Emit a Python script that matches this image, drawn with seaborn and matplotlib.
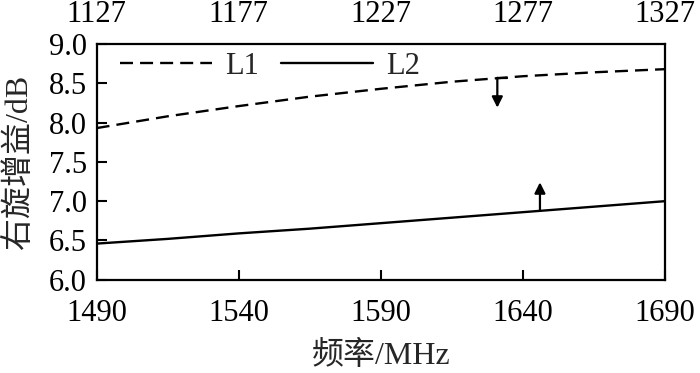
import pandas as pd
import matplotlib.pyplot as plt
import seaborn as sns

# values
freq = [1490, 1515, 1540, 1565, 1590, 1615, 1640, 1665, 1690]
l1_gain = [7.93, 8.08, 8.21, 8.33, 8.43, 8.52, 8.59, 8.64, 8.68]
l2_gain = [6.46, 6.52, 6.59, 6.65, 6.72, 6.79, 6.86, 6.93, 7.00]
bottom_ticks = [1490, 1540, 1590, 1640, 1690]
top_ticks = [1127, 1177, 1227, 1277, 1327]
y_ticks = [6.0, 6.5, 7.0, 7.5, 8.0, 8.5, 9.0]

df = pd.DataFrame({
    'freq': freq * 2,
    'gain': l1_gain + l2_gain,
    'band': ['L1'] * len(freq) + ['L2'] * len(freq),
})

sns.set_style("ticks")
plt.rcParams['font.family'] = ['Liberation Serif', 'Noto Sans CJK SC']
plt.rcParams['font.size'] = 22

fig, ax = plt.subplots(figsize=(7, 3.73), dpi=100)
sns.lineplot(data=df, x='freq', y='gain', style='band', color='black',
             dashes={'L1': (5.5, 3), 'L2': ''}, linewidth=1.7, ax=ax)

ax.set_xlim(1490, 1690)
ax.set_ylim(6.0, 9.0)
ax.set_xticks(bottom_ticks)
ax.set_yticks(y_ticks)
ax.set_yticklabels([f'{v:.1f}' for v in y_ticks])
ax.tick_params(axis='x', direction='in', length=7, width=1.5, pad=14, colors='black')
ax.tick_params(axis='y', direction='in', length=7, width=1.5, pad=7, colors='black')
ax.set_xlabel('频率/MHz', fontsize=23, labelpad=9)
ax.set_ylabel('右旋增益/dB', fontsize=23, labelpad=10.5)
for s in ax.spines.values():
    s.set_linewidth(1.6)
    s.set_color('black')

top = ax.twiny()
top.set_xlim(1127, 1327)
top.set_xticks(top_ticks)
top.tick_params(length=0, pad=11, colors='black')
for s in top.spines.values():
    s.set_visible(False)

# arrows pointing at the axis each curve belongs to
ax.annotate('', xy=(1631, 8.19), xytext=(1631, 8.57),
            arrowprops=dict(arrowstyle='-|>', color='black', lw=1.6,
                            mutation_scale=16, shrinkA=0, shrinkB=0))
ax.plot([1631, 1634.5], [8.57, 8.57], color='black', lw=1.6)
ax.annotate('', xy=(1646, 7.24), xytext=(1646, 6.88),
            arrowprops=dict(arrowstyle='-|>', color='black', lw=1.6,
                            mutation_scale=16, shrinkA=0, shrinkB=0))

ax.legend(loc='upper left', ncol=2, frameon=False, fontsize=22,
          handlelength=3.0, columnspacing=0.7, handletextpad=0.45,
          borderaxespad=0.0, bbox_to_anchor=(0.02, 1.02), title=None)

plt.subplots_adjust(left=0.138, right=0.95, top=0.882, bottom=0.25)
plt.savefig('out.png', dpi=100)
plt.close()
